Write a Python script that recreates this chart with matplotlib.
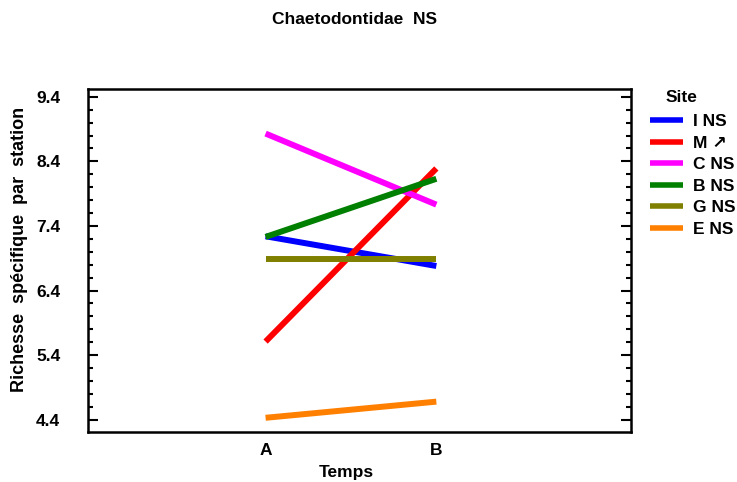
import matplotlib
matplotlib.use("Agg")
import matplotlib.pyplot as plt
from matplotlib.ticker import MultipleLocator

plt.rcParams['font.family'] = ['Liberation Sans', 'DejaVu Sans']
plt.rcParams['font.weight'] = 'bold'

temps = ["A", "B"]
sites = ["I NS", "M \u2197", "C NS", "B NS", "G NS", "E NS"]
colors = ["#0000ff", "#ff0000", "#ff00ff", "#008000", "#808000", "#ff8000"]
i_ns = [7.24, 6.78]
m_up = [5.61, 8.29]
c_ns = [8.83, 7.73]
b_ns = [7.23, 8.13]
g_ns = [6.89, 6.89]
e_ns = [4.43, 4.68]
series = [i_ns, m_up, c_ns, b_ns, g_ns, e_ns]
yticks = [4.4, 5.4, 6.4, 7.4, 8.4, 9.4]

FS = 12.5
W, H = 737, 482

fig = plt.figure(figsize=(7.37, 4.82), dpi=100)
ax = fig.add_axes([88/W, 50/H, (631-88)/W, (432-89)/H])

xpos = [1, 2]
lines = []
for vals, lab, c in zip(series, sites, colors):
    ln, = ax.plot(xpos, vals, color=c, lw=4.3, label=lab, solid_capstyle='butt')
    lines.append(ln)

ax.set_xlim(-0.04, 3.14)
ax.set_ylim(4.21, 9.52)
ax.set_xticks(xpos)
ax.set_xticklabels(temps)
ax.set_yticks(yticks)
ax.set_yticklabels([f"{v:.1f}" for v in yticks])
ax.yaxis.set_minor_locator(MultipleLocator(0.2))

for s in ax.spines.values():
    s.set_linewidth(1.8)

ax.tick_params(axis='y', which='major', direction='in', length=7, width=1.5,
               left=True, right=True, labelsize=FS, pad=20)
ax.tick_params(axis='y', which='minor', direction='in', length=3.5, width=1.5,
               left=True, right=True)
ax.tick_params(axis='x', which='both', length=0, labelsize=FS, pad=8)
for t in ax.get_xticklabels() + ax.get_yticklabels():
    t.set_fontweight('bold')

fig.text(346/W, 1 - 473/H, "Temps", ha='center', va='center',
         fontsize=FS, fontweight='bold')
fig.text(20/W, 1 - 249/H, "Richesse  sp\u00e9cifique  par  station",
         ha='center', va='center', rotation=90, fontsize=13, fontweight='bold')
fig.text(354/W, 1 - 20/H, "Chaetodontidae  NS", ha='center', va='center',
         fontsize=FS, fontweight='bold')
fig.text(682/W, 1 - 97/H, "Site", ha='center', va='center',
         fontsize=FS, fontweight='bold')

leg = fig.legend(handles=lines, labels=sites,
                 loc='upper left', bbox_to_anchor=(650/W, 1 - 114/H),
                 frameon=False, fontsize=FS,
                 handlelength=1.9, handletextpad=0.6, labelspacing=0.37,
                 borderaxespad=0, borderpad=0)
for t in leg.get_texts():
    t.set_fontweight('bold')
for h in leg.legend_handles:
    h.set_linewidth(4)

fig.savefig("out.png", dpi=100)
